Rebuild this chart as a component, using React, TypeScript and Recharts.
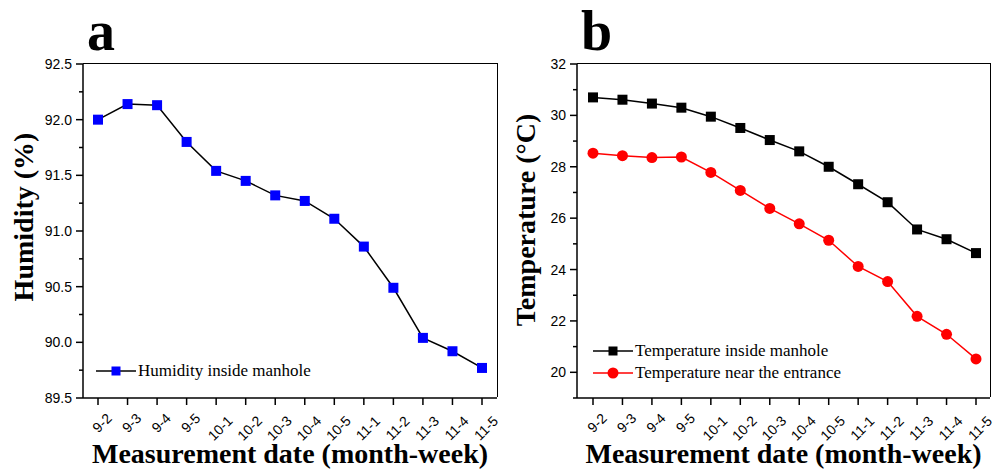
import { LineChart, Line, XAxis, YAxis, Legend, Label } from "recharts";

const weeks = ["9-2", "9-3", "9-4", "9-5", "10-1", "10-2", "10-3", "10-4", "10-5", "11-1", "11-2", "11-3", "11-4", "11-5"];
const humidity = [92.0, 92.14, 92.13, 91.8, 91.54, 91.45, 91.32, 91.27, 91.11, 90.86, 90.49, 90.04, 89.92, 89.77];
const tempInside = [30.7, 30.61, 30.46, 30.3, 29.95, 29.51, 29.04, 28.6, 28.0, 27.32, 26.62, 25.56, 25.18, 24.64];
const tempEntrance = [28.53, 28.43, 28.36, 28.38, 27.78, 27.08, 26.38, 25.78, 25.14, 24.12, 23.53, 22.18, 21.48, 20.52];
const humidityTicks = [89.5, 89.75, 90, 90.25, 90.5, 90.75, 91, 91.25, 91.5, 91.75, 92, 92.25, 92.5];
const tempTicks = [19, 20, 21, 22, 23, 24, 25, 26, 27, 28, 29, 30, 31, 32];

const humidityData = weeks.map((w, i) => ({ week: w, humidity: humidity[i] }));
const tempData = weeks.map((w, i) => ({ week: w, inside: tempInside[i], entrance: tempEntrance[i] }));

const SANS = "'Liberation Sans', Arial, sans-serif";
const SERIF = "'Liberation Serif', 'Times New Roman', serif";
const AXIS_Y = 398; // plot bottom in chart coords
const SW = 1.5;
const TICK_FS = 14;

const Square = (props: any) => {
  const { cx, cy, fill, size = 10, index } = props;
  if (cx == null || cy == null) return <g key={index} />;
  return <rect key={index} x={cx - size / 2} y={cy - size / 2} width={size} height={size} fill={fill} />;
};

const Circle = (props: any) => {
  const { cx, cy, fill, index } = props;
  if (cx == null || cy == null) return <g key={index} />;
  return <circle key={index} cx={cx} cy={cy} r={5.5} fill={fill} />;
};

// rough text width for Arial tick labels
const tickW = (s: string) => s.split("").reduce((a, c) => a + (c === "-" ? 0.333 : 0.556) * TICK_FS, 0);

const XTick = ({ x, payload }: any) => {
  const w = tickW(payload.value);
  const cx = x + 4;
  const cy = AXIS_Y + 11 + 0.68 * w;
  return (
    <text
      x={cx}
      y={cy}
      dy={5}
      textAnchor="middle"
      fontSize={TICK_FS}
      fontFamily={SANS}
      fill="#000"
      transform={`rotate(-45 ${cx} ${cy})`}
    >
      {payload.value}
    </text>
  );
};

const makeYTick = (axisX: number, isMajor: (v: number) => boolean, fmt: (v: number) => string) =>
  ({ y, payload }: any) => {
    const major = isMajor(payload.value);
    return (
      <g>
        <line x1={axisX} x2={axisX - (major ? 7 : 4)} y1={y} y2={y} stroke="#000" strokeWidth={SW} />
        {major && (
          <text x={axisX - 11} y={y} dy={5} textAnchor="end" fontSize={TICK_FS} fontFamily={SANS} fill="#000">
            {fmt(payload.value)}
          </text>
        )}
      </g>
    );
  };

const HumTick = makeYTick(83, (v) => Math.abs(v * 2 - Math.round(v * 2)) < 1e-6, (v) => v.toFixed(1));
const TempTick = makeYTick(80, (v) => v % 2 === 0, (v) => String(v));

const LegendBox = ({ items }: { items: { name: string; color: string; marker: string; line: string }[] }) => (
  <div>
    {items.map((it) => (
      <div key={it.name} style={{ display: "flex", alignItems: "center", height: 22 }}>
        <svg width={42} height={14} style={{ display: "block" }}>
          <line x1={0} x2={40} y1={7} y2={7} stroke={it.line} strokeWidth={SW} />
          {it.marker === "square" ? (
            <rect x={15.5} y={2.5} width={9} height={9} fill={it.color} />
          ) : (
            <circle cx={20} cy={7} r={5.5} fill={it.color} />
          )}
        </svg>
        <span style={{ fontFamily: SERIF, fontSize: 17, color: "#000", whiteSpace: "nowrap" }}>{it.name}</span>
      </div>
    ))}
  </div>
);

const xTitle = (cx: number) => () =>
  (
    <text x={cx} y={463} textAnchor="middle" fontFamily={SERIF} fontWeight="bold" fontSize={28} fill="#000">
      Measurement date (month-week)
    </text>
  );

const yTitle = (x: number, y: number, text: string) => () =>
  (
    <text
      x={x}
      y={y}
      textAnchor="middle"
      fontFamily={SERIF}
      fontWeight="bold"
      fontSize={28}
      fill="#000"
      transform={`rotate(-90 ${x} ${y})`}
    >
      {text}
    </text>
  );

const letterStyle: any = {
  position: "absolute",
  fontFamily: SERIF,
  fontWeight: "bold",
  fontSize: 56,
  lineHeight: "56px",
  color: "#000",
};

// top + right edges of the plot box
const frame = (left: number, width: number): any => ({
  position: "absolute",
  left,
  top: 63.25,
  width,
  height: 334,
  borderTop: `${SW}px solid #000`,
  borderRight: `${SW}px solid #000`,
  boxSizing: "border-box",
  pointerEvents: "none",
});

export default function App() {
  return (
    <div style={{ position: "absolute", left: 0, top: 0, width: 994, height: 470, background: "#fff", overflow: "hidden" }}>
      <div style={{ ...letterStyle, left: 87, top: 3 }}>a</div>
      <div style={{ ...letterStyle, left: 581, top: 3 }}>b</div>

      {/* panel a */}
      <div style={{ position: "absolute", left: 0, top: 0 }}>
        <LineChart width={500} height={470} data={humidityData} margin={{ top: 64, right: 3, bottom: 0, left: 0 }}>
          <XAxis
            dataKey="week"
            height={72}
            padding={{ left: 15, right: 15 }}
            interval={0}
            axisLine={{ stroke: "#000", strokeWidth: SW }}
            tickLine={{ stroke: "#000", strokeWidth: SW }}
            tickSize={7}
            tick={<XTick />}
          >
            <Label content={xTitle(290)} />
          </XAxis>
          <YAxis
            width={83}
            domain={[89.5, 92.5]}
            ticks={humidityTicks}
            interval={0}
            allowDataOverflow
            axisLine={{ stroke: "#000", strokeWidth: SW }}
            tickLine={false}
            tickSize={7}
            tickMargin={3}
            tick={<HumTick />}
          >
            <Label content={yTitle(33, 217, "Humidity (%)")} />
          </YAxis>
          <Legend
            layout="vertical"
            align="center"
            verticalAlign="middle"
            wrapperStyle={{ position: "absolute", left: 96, top: 360, width: "auto" }}
            content={() => (
              <LegendBox items={[{ name: "Humidity inside manhole", color: "#0000ff", marker: "square", line: "#000" }]} />
            )}
          />
          <Line
            dataKey="humidity"
            name="Humidity inside manhole"
            stroke="#000"
            strokeWidth={SW}
            fill="#0000ff"
            dot={(p: any) => <Square {...p} fill="#0000ff" />}
            activeDot={false}
            isAnimationActive={false}
          />
        </LineChart>
      </div>
      <div style={frame(82.5, 415.25)} />

      {/* panel b */}
      <div style={{ position: "absolute", left: 497, top: 0 }}>
        <LineChart width={497} height={470} data={tempData} margin={{ top: 64, right: 4, bottom: 0, left: 0 }}>
          <XAxis
            dataKey="week"
            height={72}
            padding={{ left: 16, right: 14 }}
            interval={0}
            axisLine={{ stroke: "#000", strokeWidth: SW }}
            tickLine={{ stroke: "#000", strokeWidth: SW }}
            tickSize={7}
            tick={<XTick />}
          >
            <Label content={xTitle(286.5)} />
          </XAxis>
          <YAxis
            width={80}
            domain={[19, 32]}
            ticks={tempTicks}
            interval={0}
            allowDataOverflow
            axisLine={{ stroke: "#000", strokeWidth: SW }}
            tickLine={false}
            tickSize={7}
            tickMargin={3}
            tick={<TempTick />}
          >
            <Label content={yTitle(38, 220, "Temperature (°C)")} />
          </YAxis>
          <Legend
            layout="vertical"
            align="center"
            verticalAlign="middle"
            wrapperStyle={{ position: "absolute", left: 96, top: 340, width: "auto" }}
            content={() => (
              <LegendBox
                items={[
                  { name: "Temperature inside manhole", color: "#000", marker: "square", line: "#000" },
                  { name: "Temperature near the entrance", color: "#ff0000", marker: "circle", line: "#ff0000" },
                ]}
              />
            )}
          />
          <Line
            dataKey="inside"
            name="Temperature inside manhole"
            stroke="#000"
            strokeWidth={SW}
            dot={(p: any) => <Square {...p} fill="#000" />}
            activeDot={false}
            isAnimationActive={false}
          />
          <Line
            dataKey="entrance"
            name="Temperature near the entrance"
            stroke="#ff0000"
            strokeWidth={SW}
            dot={(p: any) => <Circle {...p} fill="#ff0000" />}
            activeDot={false}
            isAnimationActive={false}
          />
        </LineChart>
      </div>
      <div style={frame(576.5, 414.25)} />
    </div>
  );
}
